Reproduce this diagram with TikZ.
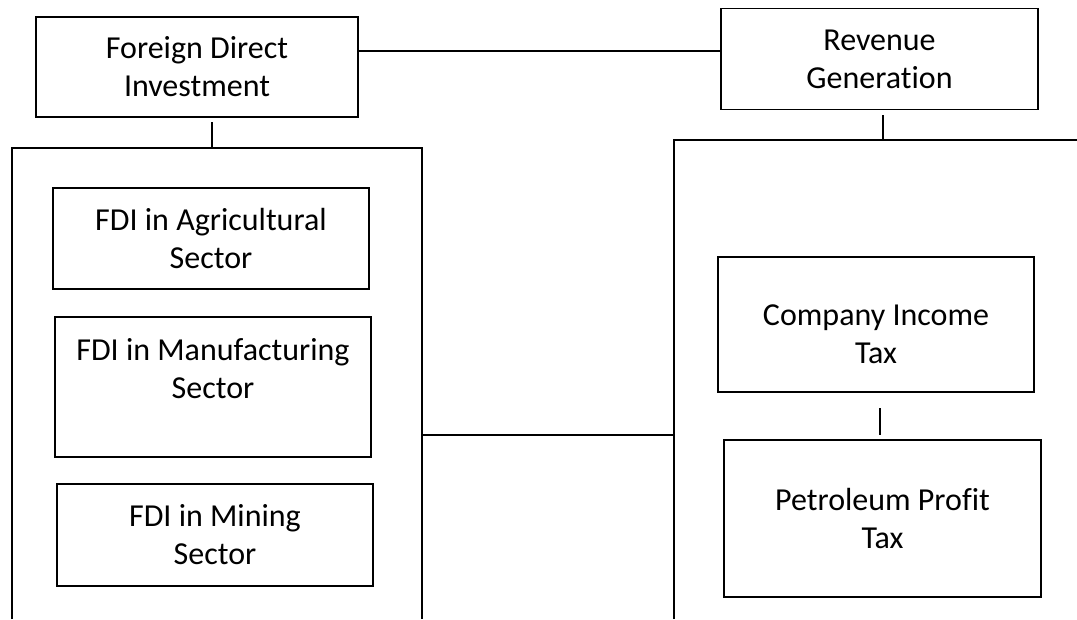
\documentclass[tikz,border=0pt]{standalone}
\usepackage{fontspec}
\setmainfont{Carlito}[Ligatures=NoCommon]
\usetikzlibrary{positioning}
\tikzset{
	boxtext/.style={align=center, inner sep=0pt, font=\fontsize{24}{28.5}\selectfont},
	box/.style={boxtext, draw=black, line width=0.9pt},
	link/.style={draw=black, line width=0.9pt}
}

\begin{document}
\begin{tikzpicture}[x=0.75pt,y=-0.75pt]
				\useasboundingbox (0,0) rectangle (1077,619);
				\node[box, minimum width=322*0.75pt, minimum height=100*0.75pt] (fdi) at (197,67) {Foreign Direct\\Investment};
				\node[box, minimum width=317*0.75pt, minimum height=101*0.75pt] (rev) at (879.5,59) {Revenue\\Generation};
				
				\node[box, minimum width=316*0.75pt, minimum height=101*0.75pt] (agri) at (211,238.5) {FDI in Agricultural\\Sector};
				\node[box, minimum width=316*0.75pt, minimum height=140*0.75pt,
					label={[boxtext, yshift=14pt]center:FDI in Manufacturing\\Sector}] (manu) at (213,387) {};
				\node[box, minimum width=316*0.75pt, minimum height=102*0.75pt] (mine) at (215,535) {FDI in Mining\\Sector};
				
				\node[box, minimum width=316*0.75pt, minimum height=135*0.75pt,
					label={[boxtext, yshift=-7.5pt]center:Company Income\\Tax}] (cit) at (876,324.5) {};
				\node[box, minimum width=317*0.75pt, minimum height=157*0.75pt] (ppt) at (882.5,518.5) {Petroleum Profit\\Tax};
				
				\coordinate (lbot) at (12,619);
				\coordinate (ltop) at (12,148);
				\coordinate (lrtop) at (422,148);
				\coordinate (lrbot) at (422,619);
				\coordinate (rbot) at (674,619);
				\coordinate (rtop) at (674,140);
				\coordinate (rend) at (1077,140);
				\coordinate (fdistub) at (212,122);
				\coordinate (revstub) at (883,115);
				\coordinate (citstub) at (880,408);
				
				\draw[link] (lbot) -- (ltop) -- (lrtop) -- (lrbot);
				\draw[link] (rbot) -- (rtop) -- (rend);
				\draw[link] (lrtop |- citstub) ++(0,27) coordinate (mid) -- (mid -| rtop);
				
				\draw[link] (fdi.east |- 0,51) -- (rev.west |- 0,51);
				\draw[link] (fdistub) -- (fdistub |- ltop);
				\draw[link] (revstub) -- (revstub |- rtop);
				\draw[link] (citstub) -- (citstub |- mid);
			\end{tikzpicture}
\end{document}
